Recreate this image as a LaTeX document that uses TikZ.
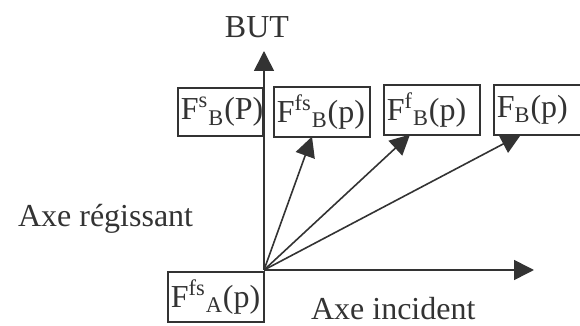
\documentclass[tikz,border=0pt]{standalone}
\usepackage{fontspec}
\setmainfont{Liberation Serif}
\usepackage{tikz}
\usetikzlibrary{arrows.meta,calc}
\definecolor{axInk}{HTML}{333333}

\begin{document}
\begin{tikzpicture}[x=0.5pt,y=-0.5pt,>={Triangle[length=10pt,width=10pt]},
  every node/.style={font=\fontsize{16}{19}\selectfont,text=axInk},
  fbox/.style={draw=axInk,line width=0.8pt,fill=white,anchor=north west,
    inner xsep=1.5pt,inner ysep=0pt,align=left,minimum height=25pt,text width=45pt},
  vec/.style={->,axInk,line width=0.8pt}]
\clip (0,0) rectangle (580,326);
\coordinate (O) at (264,270);
\coordinate (goal) at (264,51);
\coordinate (inc) at (534,270);
% boxes
\node[fbox,text width=39.5pt,minimum height=24pt] (sB) at (177,87) {F\textsuperscript{s}\textsubscript{B}(P)};
\node[fbox] (fsB) at (273,86) {F\textsuperscript{fs}\textsubscript{B}(p)};
\node[fbox] (fB) at (383,84) {F\textsuperscript{f}\textsubscript{B}(p)};
\node[fbox] (B) at (493,84) {F\textsubscript{B}(p)};
\node[fbox] (fsA) at (167,271) {F\textsuperscript{fs}\textsubscript{A}(p)};
% axes and vectors
\draw[vec] (O) -- (goal);
\draw[vec] (O) -- (inc);
\draw[vec] (O) -- ($(fsB.south west)+(39,-1)$);
\draw[vec] (O) -- ($(fB.south west)+(27,-1)$);
\draw[vec] (O) -- ($(B.south west)+(28,-1)$);
% labels
\node[anchor=base] (but) at (257,38) {BUT};
\node[anchor=base west] (reg) at (11,227) {Axe régissant};
\node[anchor=base west,inner ysep=1pt] (incl) at (304,320) {Axe incident};
\end{tikzpicture}
\end{document}
